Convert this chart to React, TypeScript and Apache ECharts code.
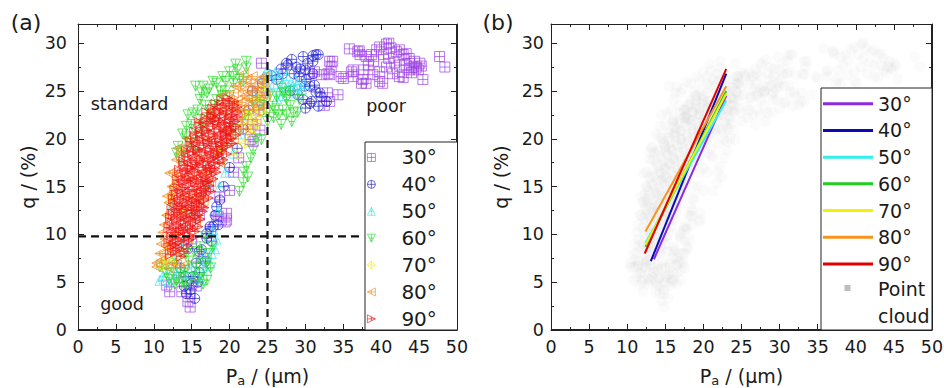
import React, { useEffect, useRef } from "react";
import * as echarts from "echarts";

const FONT = "DejaVu Sans";

// ---------- data ----------
const angleNames = ["30°", "40°", "50°", "60°", "70°", "80°", "90°"];
const xTicks = { min: 0, max: 50, interval: 5 };
const yTicks = { min: 0, max: 32, interval: 5 };

const p30 = [
  [35.8, 29.4], [37.1, 29.2], [37.2, 28.8], [38.0, 28.6], [38.7, 28.8], [39.4, 29.3], [39.8, 29.6], [40.7, 29.9],
  [41.0, 30.0], [41.3, 29.5], [42.0, 29.1], [42.4, 29.3], [42.9, 28.8], [43.3, 28.9], [43.7, 28.4], [44.4, 28.1],
  [45.1, 27.9], [47.7, 28.6], [48.4, 27.5], [40.7, 27.5], [39.8, 27.0], [38.9, 26.7], [38.0, 25.8], [37.4, 25.8],
  [36.3, 26.5], [36.1, 27.0], [35.0, 26.3], [33.6, 28.1], [33.4, 27.5], [33.2, 26.7], [32.1, 26.7], [34.3, 24.6],
  [32.5, 23.5], [33.2, 23.9], [45.5, 26.2], [41.5, 26.8], [42.4, 26.5], [43.7, 27.2], [44.6, 27.4], [40.2, 25.8],
  [39.8, 26.0], [42.4, 27.7], [43.3, 27.7], [44.9, 27.2], [38.3, 27.7], [37.7, 27.2], [24.2, 27.9], [33.2, 28.1],
  [36.9, 29.1], [33.0, 26.8], [34.7, 26.5], [36.3, 27.2], [37.6, 26.2], [41.0, 28.4], [41.8, 28.0], [40.3, 28.8],
  [39.0, 28.1], [42.9, 26.4], [44.0, 26.9], [45.3, 27.6], [31.2, 27.0], [30.5, 26.8], [32.9, 24.8], [44.2, 27.5],
  [12.1, 4.0], [11.7, 4.7], [14.5, 3.0], [14.8, 2.4], [13.7, 4.0], [14.8, 3.8], [15.6, 4.6], [18.3, 11.9],
  [19.6, 11.5], [19.4, 11.3], [18.5, 11.9], [19.6, 12.2], [20.0, 14.6], [18.7, 13.9], [22.7, 19.9], [16.5, 7.5],
  [13.3, 5.5], [17.5, 10.5], [20.5, 16.5], [21.2, 18.0], [23.0, 21.5], [23.8, 23.0], [24.3, 24.8], [15.0, 9.0],
  [16.0, 12.0], [17.2, 15.0], [18.5, 18.0], [19.8, 20.5], [21.0, 22.0], [24.0, 20.9], [23.1, 19.7],
];

const p40 = [
  [29.7, 28.6], [31.4, 28.8], [30.3, 27.9], [28.8, 27.5], [27.5, 27.9], [27.0, 26.8], [29.2, 26.5], [31.0, 26.8],
  [29.9, 25.5], [31.4, 24.9], [32.1, 24.4], [29.7, 24.1], [30.8, 23.9], [32.8, 23.9], [31.7, 23.4], [26.2, 26.2],
  [31.0, 28.1], [31.0, 28.7], [31.7, 28.8], [27.7, 27.7], [30.6, 25.5], [31.9, 24.8], [30.6, 23.7], [28.5, 26.8],
  [30.0, 27.2], [29.0, 24.6], [26.8, 27.3], [25.5, 26.6], [24.3, 25.8], [23.0, 25.0], [28.2, 28.3], [29.3, 27.3],
  [30.1, 26.2], [31.2, 25.6], [28.0, 25.0], [30.0, 23.2],
  [15.4, 3.3], [14.3, 3.8], [15.0, 4.9], [15.2, 5.6], [14.0, 4.6], [16.0, 6.0], [18.3, 12.9], [18.1, 12.0],
  [17.4, 10.8], [17.0, 10.1], [18.7, 13.6], [17.8, 10.8], [17.0, 9.6], [16.3, 8.4], [15.6, 7.0], [19.2, 15.0],
  [20.0, 17.0], [21.0, 19.0], [21.8, 21.0], [22.5, 23.0], [13.5, 6.5], [14.5, 8.5], [14.8, 4.2], [15.8, 5.0],
  [16.8, 7.2], [16.0, 8.2], [17.6, 9.3], [18.5, 11.0], [14.2, 5.6],
];

const p50 = [
  [25.3, 26.8], [26.0, 26.9], [27.0, 25.8], [28.4, 25.5], [27.9, 24.8], [29.2, 24.8], [28.7, 26.2], [26.6, 25.1],
  [25.0, 25.5], [24.5, 26.5], [29.8, 25.8], [27.5, 26.6], [26.2, 24.2], [11.2, 5.6], [12.0, 5.0], [16.1, 5.2],
  [17.4, 7.0], [17.8, 10.5], [18.7, 15.0], [16.8, 8.0], [15.0, 6.5], [13.0, 6.0], [14.2, 5.4], [17.0, 6.2],
  [18.0, 8.5], [18.5, 12.5], [19.5, 16.5], [20.5, 18.5], [21.5, 20.5], [22.5, 22.5], [23.5, 24.3], [12.5, 7.5],
  [13.8, 9.0], [12.4, 13.0], [10.8, 5.2], [25.8, 25.8], [26.5, 26.5], [27.8, 25.5], [28.9, 25.6], [27.0, 24.5],
  [29.5, 25.2], [24.8, 26.9], [12.8, 5.4], [14.5, 6.5], [15.5, 5.8], [16.5, 6.8], [17.6, 8.0], [18.2, 9.5],
  [11.8, 6.0],
];

const p60 = [
  [22.2, 28.1], [22.2, 27.4], [20.0, 27.0], [19.1, 26.5], [16.5, 25.5], [17.0, 24.8], [16.1, 24.1], [15.2, 22.7],
  [16.1, 22.0], [14.3, 21.3], [13.2, 19.2], [14.3, 20.2], [18.3, 25.8], [20.5, 25.8], [21.3, 26.2], [18.3, 24.1],
  [17.4, 23.0], [15.6, 20.6], [13.4, 17.8], [19.5, 25.0], [17.8, 26.0], [15.0, 21.5], [14.0, 18.8], [16.8, 23.5],
  [21.0, 27.2], [20.5, 26.5], [19.0, 24.5], [14.8, 19.5], [15.5, 19.0], [16.5, 21.0], [17.5, 22.2], [18.0, 23.5],
  [19.5, 26.0], [20.8, 27.8], [21.8, 26.0], [17.3, 25.2], [15.8, 23.0], [14.5, 22.5], [13.8, 20.5], [13.0, 18.5],
  [18.8, 25.0], [20.0, 24.5], [16.3, 24.8], [15.5, 25.5],
  [25.7, 23.4], [27.0, 23.0], [28.2, 21.8], [28.4, 22.7], [26.2, 24.4], [27.5, 24.1], [29.2, 24.1], [24.9, 22.7],
  [24.2, 19.9], [22.2, 17.1], [22.4, 16.0], [21.3, 14.5], [21.8, 15.4], [23.1, 18.8], [26.5, 22.5], [25.3, 24.6],
  [28.0, 25.0], [26.8, 25.3], [24.0, 23.5], [25.0, 21.8], [25.8, 22.2], [26.8, 21.5], [27.5, 22.5], [28.0, 23.5],
  [26.0, 23.0], [24.5, 24.0], [27.2, 24.8], [29.0, 22.8], [23.5, 20.0], [22.8, 18.0], [21.9, 16.5],
  [10.8, 6.6], [11.7, 5.9], [13.0, 7.3], [14.3, 8.0], [15.6, 6.6], [17.0, 5.2], [16.1, 8.7], [14.3, 4.7],
  [13.0, 5.2], [17.0, 7.0], [17.8, 8.7], [12.4, 6.5], [15.0, 5.5], [16.5, 4.8], [14.0, 6.2], [16.8, 9.8],
  [11.5, 6.8], [12.0, 5.3], [13.5, 6.0], [14.6, 7.2], [15.3, 8.2], [16.0, 7.5], [16.5, 6.0], [17.5, 6.5],
  [12.8, 4.8], [13.8, 5.0], [15.8, 5.3], [17.3, 8.0],
  [15.0, 12.0], [17.0, 15.0], [19.0, 19.0], [20.5, 21.0], [22.0, 22.5], [23.0, 24.0],
];

const p70 = [
  [22.7, 20.6], [23.2, 21.0], [23.6, 21.6], [23.1, 23.0], [12.6, 15.0], [12.3, 14.2], [11.5, 7.2], [12.0, 8.5],
  [13.0, 10.0], [14.0, 12.5], [15.5, 14.0], [17.0, 16.5], [18.5, 18.5], [20.0, 20.5], [21.5, 21.5], [22.2, 22.5],
  [23.8, 24.2], [24.3, 25.0], [22.0, 19.5], [21.0, 18.3], [24.0, 22.8], [24.6, 25.8], [23.4, 22.4], [22.8, 21.8],
  [12.2, 13.5], [11.8, 12.0], [12.9, 16.0], [11.2, 6.7], [12.5, 7.2],
];

const p80 = [
  [10.4, 6.6], [11.2, 8.0], [11.7, 12.0], [12.1, 16.4], [13.0, 17.8], [23.1, 25.5], [24.0, 26.2], [22.2, 26.2],
  [20.5, 24.8], [24.0, 24.1], [21.3, 23.0], [10.4, 7.0], [10.8, 8.0], [11.5, 9.5], [11.4, 11.0], [12.0, 13.3],
  [12.4, 15.0], [13.5, 18.5], [14.5, 20.0], [16.0, 21.8], [17.5, 23.0], [19.0, 24.5], [21.5, 25.5], [22.8, 24.8],
  [23.5, 25.0], [24.5, 25.8], [24.7, 24.5], [22.5, 23.5], [23.3, 23.0], [21.8, 22.0], [20.8, 21.0], [19.8, 19.5],
  [18.7, 17.5], [17.5, 15.5], [16.5, 13.5], [15.5, 11.5], [14.5, 9.5], [13.5, 8.0], [12.5, 7.0], [14.0, 6.8],
  [13.0, 12.0], [14.0, 14.0], [15.0, 16.0], [16.0, 18.0], [17.0, 20.0], [18.0, 22.0], [21.0, 24.0], [22.0, 24.5],
  [23.0, 26.5], [21.8, 26.8], [23.5, 22.0], [22.5, 21.0], [19.5, 22.5], [20.5, 23.2], [21.5, 23.8], [22.3, 24.2],
  [23.0, 24.0], [23.8, 25.3], [24.5, 26.5], [22.7, 25.8], [21.8, 25.0], [20.8, 25.5], [20.0, 24.0], [19.0, 23.2],
  [23.6, 23.5], [24.6, 23.2], [22.0, 23.0], [21.0, 22.2], [20.5, 20.0], [21.5, 21.0], [19.3, 20.8], [11.0, 9.0],
  [11.2, 10.2], [11.8, 14.0], [12.5, 16.5], [13.2, 19.0], [11.0, 7.3], [12.0, 6.5], [13.0, 6.8], [11.6, 8.8],
];

const p90 = [
  [12.2, 7.9], [12.9, 8.3], [13.6, 7.7], [12.0, 9.1], [12.7, 8.9], [13.5, 9.3], [14.3, 8.8],
  [12.3, 10.2], [13.1, 10.0], [13.9, 10.4], [14.7, 9.8], [15.4, 10.3],
  [12.4, 11.2], [13.2, 11.0], [14.0, 11.4], [14.8, 10.9], [15.5, 11.3],
  [12.6, 12.1], [13.4, 12.3], [14.2, 11.9], [15.0, 12.2], [15.8, 12.0], [16.4, 12.4],
  [12.8, 13.2], [13.6, 12.9], [14.4, 13.3], [15.2, 13.0], [16.0, 13.2], [16.6, 12.8],
  [13.0, 14.1], [13.8, 14.3], [14.6, 13.9], [15.4, 14.2], [16.2, 14.0], [16.9, 14.4],
  [13.3, 15.2], [14.1, 14.9], [14.9, 15.3], [15.7, 15.0], [16.5, 15.3], [17.3, 15.1],
  [13.6, 16.1], [14.4, 16.4], [15.2, 15.9], [16.0, 16.2], [16.8, 16.0], [17.6, 16.3],
  [14.0, 17.2], [14.8, 16.9], [15.6, 17.3], [16.4, 17.0], [17.2, 17.2], [18.0, 16.9],
  [14.5, 18.1], [15.3, 18.3], [16.1, 17.9], [16.9, 18.2], [17.7, 18.0], [18.5, 18.3], [19.1, 17.8],
  [15.0, 19.2], [15.8, 18.9], [16.6, 19.3], [17.4, 19.0], [18.2, 19.2], [19.0, 18.9], [19.7, 19.3],
  [15.5, 20.1], [16.3, 20.3], [17.1, 19.9], [17.9, 20.2], [18.7, 20.0], [19.5, 20.3], [20.2, 20.0],
  [16.2, 21.2], [17.0, 20.9], [17.8, 21.3], [18.6, 21.0], [19.4, 21.2], [20.2, 20.9], [20.8, 21.3],
  [16.9, 22.1], [17.7, 22.3], [18.5, 21.9], [19.3, 22.2], [20.1, 22.0], [20.9, 22.3],
  [17.8, 23.1], [18.6, 22.9], [19.4, 23.2], [20.2, 23.0], [21.0, 23.3],
  [19.0, 24.0], [19.8, 24.2], [20.6, 23.9],
  [12.5, 8.5], [13.2, 8.6], [14.0, 8.2], [12.4, 9.6], [13.1, 9.5], [13.9, 9.7], [14.6, 9.4], [15.2, 9.7],
  [12.0, 10.7], [12.8, 10.6], [13.6, 10.7], [14.4, 10.5], [15.1, 10.6], [15.8, 10.8],
  [12.2, 11.7], [13.0, 11.6], [13.8, 11.8], [14.6, 11.6], [15.4, 11.8], [16.1, 11.6],
  [12.4, 12.6], [13.2, 12.7], [14.0, 12.6], [14.8, 12.8], [15.6, 12.6], [16.3, 12.9],
  [12.6, 13.7], [13.4, 13.6], [14.2, 13.7], [15.0, 13.5], [15.8, 13.7], [16.6, 13.6], [17.2, 13.8],
  [12.8, 14.6], [13.6, 14.7], [14.4, 14.5], [15.2, 14.7], [16.0, 14.6], [16.8, 14.8], [17.5, 14.5],
  [13.1, 15.7], [13.9, 15.6], [14.7, 15.8], [15.5, 15.5], [16.3, 15.7], [17.1, 15.6], [17.8, 15.8],
  [13.4, 16.7], [14.2, 16.6], [15.0, 16.8], [15.8, 16.5], [16.6, 16.7], [17.4, 16.6], [18.2, 16.5],
  [13.9, 17.6], [14.7, 17.7], [15.5, 17.5], [16.3, 17.7], [17.1, 17.6], [17.9, 17.5], [18.7, 17.4],
  [14.3, 18.7], [15.1, 18.6], [15.9, 18.8], [16.7, 18.6], [17.5, 18.7], [18.3, 18.5], [19.0, 18.7], [19.6, 18.4],
  [14.8, 19.7], [15.6, 19.6], [16.4, 19.8], [17.2, 19.5], [18.0, 19.7], [18.8, 19.6], [19.6, 19.8], [20.3, 19.5],
  [15.4, 20.7], [16.2, 20.6], [17.0, 20.8], [17.8, 20.5], [18.6, 20.7], [19.4, 20.6], [20.2, 20.8], [20.8, 20.4],
  [16.0, 21.7], [16.8, 21.6], [17.6, 21.8], [18.4, 21.5], [19.2, 21.7], [20.0, 21.6], [20.7, 21.8],
  [17.0, 22.7], [17.8, 22.5], [18.6, 22.7], [19.4, 22.6], [20.2, 22.5], [21.0, 22.8],
  [18.2, 23.6], [19.0, 23.5], [19.8, 23.7], [20.6, 23.5],
  [12.9, 9.0], [13.5, 10.2], [14.2, 11.1], [14.9, 12.5], [15.6, 13.4], [16.3, 14.3], [16.9, 15.5], [17.5, 16.9],
  [18.1, 18.1], [18.9, 19.2], [19.5, 20.4], [19.9, 21.3], [18.1, 22.1], [13.7, 13.0], [14.4, 15.6], [15.1, 17.1],
];

// fitted lines (panel b): [start, end]
const fit30 = [[13.5, 7.4], [23.0, 24.5]];
const fit40 = [[13.1, 7.2], [23.0, 26.8]];
const fit50 = [[12.4, 9.1], [23.0, 24.0]];
const fit60 = [[12.4, 8.7], [23.0, 25.0]];
const fit70 = [[12.4, 8.9], [23.0, 24.7]];
const fit80 = [[12.4, 10.3], [23.0, 25.5]];
const fit90 = [[12.3, 8.0], [23.0, 27.3]];

// threshold lines (panel a)
const thresholdX = 25;
const thresholdY = 9.8;
const thresholdYEnd = 37.2;

// ---------- styling ----------
const scatterColors = ["#9a3ce6", "#1c1cd2", "#35e2f2", "#26dc26", "#eeee00", "#f58a20", "#f01212"];
const lineColors = ["#8a2be2", "#0a0ab4", "#33eeee", "#22cc22", "#f2f200", "#f7941d", "#e00000"];
const symbols = [
  "path://M0,0L10,0L10,10L0,10Z M5,0L5,10 M0,5L10,5",
  "path://M10,5A5,5,0,1,1,0,5A5,5,0,1,1,10,5Z M5,0L5,10 M0,5L10,5",
  "path://M5,0L10,10L0,10Z M5,0L5,10 M2.5,5L7.5,5",
  "path://M0,0L10,0L5,10Z M5,0L5,10 M2.5,5L7.5,5",
  "path://M5,0L10,5L5,10L0,5Z M5,0L5,10 M0,5L10,5",
  "path://M0,5L10,0L10,10Z M0,5L10,5 M5,2.5L5,7.5",
  "path://M10,5L0,0L0,10Z M0,5L10,5 M5,2.5L5,7.5",
];

const AXIS_COLOR = "#222";
const TEXT_COLOR = "#1a1a1a";
const GRID_A = { left: 78, top: 24, width: 379, height: 306 };
const GRID_B = { left: 551, top: 24, width: 381, height: 306 };

const blank = () => "";

function xAxes(gridIndex: number) {
  const common = {
    type: "value",
    gridIndex,
    min: xTicks.min,
    max: xTicks.max,
    interval: xTicks.interval,
    splitLine: { show: false },
    axisLine: { show: true, onZero: false, lineStyle: { color: AXIS_COLOR, width: 1 } },
    axisTick: { show: true, inside: true, length: 6, lineStyle: { color: AXIS_COLOR } },
    minorTick: { show: true, splitNumber: 2, length: 3, lineStyle: { color: AXIS_COLOR } },
  };
  return [
    {
      ...common,
      position: "bottom",
      axisLabel: { fontSize: 17.5, color: TEXT_COLOR, fontFamily: FONT, margin: 8 },
      name: "{n|P}{s|a}{n| / (μm)}",
      nameLocation: "middle",
      nameGap: 34,
      nameTextStyle: {
        rich: {
          n: { fontSize: 19, fontFamily: FONT, color: TEXT_COLOR },
          s: { fontSize: 13, fontFamily: FONT, color: TEXT_COLOR, padding: [10, 0, 0, 0] },
        },
      },
    },
    { ...common, position: "top", axisLabel: { show: true, formatter: blank, fontSize: 8 } },
  ];
}

function yAxes(gridIndex: number, margin: number) {
  const common = {
    type: "value",
    gridIndex,
    min: yTicks.min,
    max: yTicks.max,
    interval: yTicks.interval,
    splitLine: { show: false },
    axisLine: { show: true, onZero: false, lineStyle: { color: AXIS_COLOR, width: 1 } },
    axisTick: { show: true, inside: true, length: 6, lineStyle: { color: AXIS_COLOR } },
    minorTick: { show: true, splitNumber: 2, length: 3, lineStyle: { color: AXIS_COLOR } },
  };
  return [
    {
      ...common,
      position: "left",
      axisLabel: {
        fontSize: 17.5,
        color: TEXT_COLOR,
        fontFamily: FONT,
        margin,
        formatter: (v: number) => (v % 5 === 0 ? String(v) : ""),
      },
      name: "q / (%)",
      nameLocation: "middle",
      nameGap: 41,
      nameTextStyle: { fontSize: 19, fontFamily: FONT, color: TEXT_COLOR },
    },
    { ...common, position: "right", axisLabel: { show: true, formatter: blank, fontSize: 8 } },
  ];
}

export default function App() {
  const ref = useRef<HTMLDivElement>(null);

  useEffect(() => {
    if (!ref.current) return;
    const chart = echarts.init(ref.current, undefined, { renderer: "svg" });

    const groups = [p30, p40, p50, p60, p70, p80, p90];
    const fits = [fit30, fit40, fit50, fit60, fit70, fit80, fit90];
    const cloud = groups.reduce((acc: number[][], g) => acc.concat(g), []);

    const scatterSeries = groups.map((g, i) => ({
      type: "scatter",
      name: angleNames[i],
      xAxisIndex: 0,
      yAxisIndex: 0,
      data: g,
      symbol: symbols[i],
      symbolSize: 10,
      itemStyle: { color: "transparent", borderColor: scatterColors[i], borderWidth: 0.85 },
      z: 2,
    }));

    const dashed = [
      {
        type: "line",
        xAxisIndex: 0,
        yAxisIndex: 0,
        data: [[thresholdX, yTicks.min], [thresholdX, yTicks.max]],
        symbol: "none",
        silent: true,
        lineStyle: { color: "#111", width: 2.2, type: [8, 5] },
        z: 3,
      },
      {
        type: "line",
        xAxisIndex: 0,
        yAxisIndex: 0,
        data: [[xTicks.min, thresholdY], [thresholdYEnd, thresholdY]],
        symbol: "none",
        silent: true,
        lineStyle: { color: "#111", width: 2.2, type: [8, 5] },
        z: 3,
      },
    ];

    // invisible series binding the top/right frame axes of each panel
    const frameSeries = [1, 3].map((ai) => ({
      type: "scatter",
      xAxisIndex: ai,
      yAxisIndex: ai,
      data: [[xTicks.min, yTicks.min]],
      symbolSize: 0,
      silent: true,
      itemStyle: { opacity: 0 },
    }));

    const cloudSeries = {
      type: "scatter",
      name: "Point cloud",
      xAxisIndex: 2,
      yAxisIndex: 2,
      data: cloud,
      symbol: "circle",
      symbolSize: 11,
      itemStyle: { color: "rgba(150,150,150,0.05)" },
      z: 1,
    };

    const fitSeries = fits.map((f, i) => ({
      type: "line",
      name: "(b) " + angleNames[i],
      xAxisIndex: 2,
      yAxisIndex: 2,
      data: f,
      symbol: "none",
      showSymbol: false,
      lineStyle: { color: lineColors[i], width: 2 },
      itemStyle: { color: lineColors[i] },
      z: 3,
    }));

    const textEl = (x: number, y: number, text: string, size: number, align = "center") => ({
      type: "text",
      x,
      y,
      z: 30,
      style: {
        text,
        fontSize: size,
        fontFamily: FONT,
        fill: TEXT_COLOR,
        textAlign: align,
        textVerticalAlign: "middle",
      },
    });

    const frameRect = (g: { left: number; top: number; width: number; height: number }) => ({
      type: "rect",
      z: 5,
      silent: true,
      shape: { x: g.left + 0.5, y: g.top + 0.5, width: g.width - 1, height: g.height - 1 },
      style: { fill: "rgba(255,255,255,0)", stroke: AXIS_COLOR, lineWidth: 1 },
    });

    chart.setOption({
      animation: false,
      backgroundColor: "#fff",
      grid: [
        { ...GRID_A, outerBoundsMode: "none", containLabel: false },
        { ...GRID_B, outerBoundsMode: "none", containLabel: false },
      ],
      xAxis: [...xAxes(0), ...xAxes(1)],
      yAxis: [...yAxes(0, 11), ...yAxes(1, 7)],
      legend: [
        {
          left: 367,
          top: 144,
          orient: "vertical",
          itemWidth: 50,
          itemHeight: 8,
          itemGap: 0,
          padding: 0,
          z: 20,
          selectedMode: false,
          data: angleNames,
          itemStyle: { borderWidth: 0.8 },
          textStyle: { fontSize: 20, lineHeight: 26.9, fontFamily: FONT, color: TEXT_COLOR },
        },
        {
          left: 823,
          top: 90.4,
          orient: "vertical",
          itemWidth: 50,
          itemHeight: 3,
          itemGap: 0,
          padding: 0,
          z: 20,
          icon: "rect",
          symbolKeepAspect: false,
          selectedMode: false,
          data: angleNames.map((n) => "(b) " + n),
          formatter: (n: string) => n.replace("(b) ", ""),
          textStyle: { fontSize: 19, lineHeight: 26.7, fontFamily: FONT, color: TEXT_COLOR },
        },
      ],
      graphic: [
        frameRect(GRID_A),
        frameRect(GRID_B),
        {
          type: "rect",
          z: 10,
          shape: { x: 365, y: 142, width: 92.5, height: 188 },
          style: { fill: "#fff", stroke: AXIS_COLOR, lineWidth: 1 },
        },
        {
          type: "rect",
          z: 10,
          shape: { x: 821, y: 88, width: 111, height: 242 },
          style: { fill: "#fff", stroke: AXIS_COLOR, lineWidth: 1 },
        },
        {
          type: "rect",
          z: 30,
          shape: { x: 844.5, y: 285, width: 6, height: 6 },
          style: { fill: "#bdbdbd" },
        },
        textEl(878, 288.5, "Point", 19, "left"),
        textEl(878, 315.5, "cloud", 19, "left"),
        textEl(26, 22, "(a)", 22),
        textEl(498, 22, "(b)", 22),
        textEl(129.5, 104, "standard", 17.5),
        textEl(386, 106, "poor", 17.5),
        textEl(122, 304, "good", 17.5),
      ],
      series: [...scatterSeries, ...dashed, ...frameSeries, cloudSeries, ...fitSeries],
    });

    return () => chart.dispose();
  }, []);

  return <div ref={ref} style={{ position: "fixed", left: 0, top: 0, width: 944, height: 388 }} />;
}
